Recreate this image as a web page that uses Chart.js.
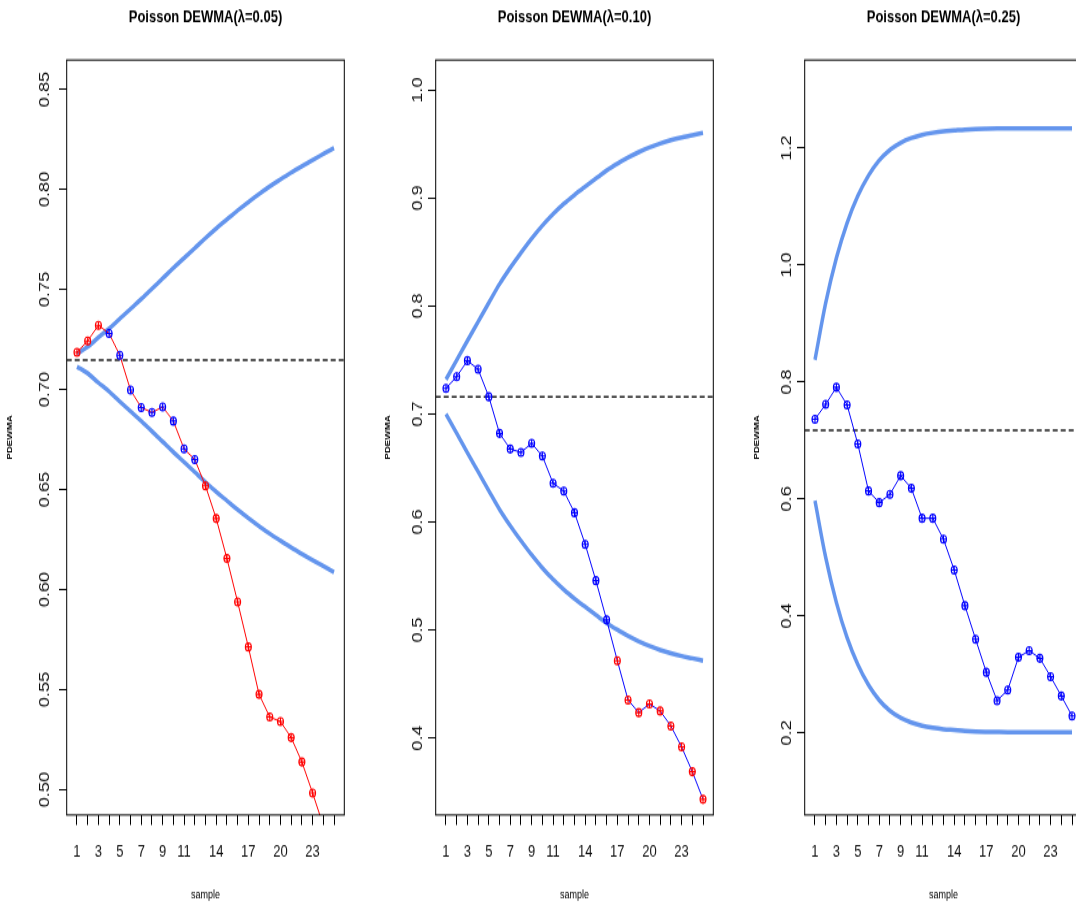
<!DOCTYPE html>
<html>
<head>
<meta charset="utf-8">
<title>Poisson DEWMA</title>
<script src="https://cdn.jsdelivr.net/npm/chart.js@4.4.1/dist/chart.umd.min.js"></script>
<style>
  html, body { margin: 0; padding: 0; background: #fff; overflow: hidden; }
  body { width: 1076px; height: 905px; position: relative; }
  /* the original plot is stretched vertically, so each canvas is too */
  .panel { position: absolute; top: 0; width: 369px; height: 696px; transform: scaleY(1.3); transform-origin: 0 0; }
</style>
</head>
<body>
<div class="panel" style="left:0px"><canvas id="chart005" width="369" height="696"></canvas></div>
<div class="panel" style="left:369px"><canvas id="chart010" width="369" height="696"></canvas></div>
<div class="panel" style="left:738px"><canvas id="chart025" width="369" height="696"></canvas></div>
<script>
// x axis
const SAMPLES = [1, 2, 3, 4, 5, 6, 7, 8, 9, 10, 11, 12, 13, 14, 15, 16, 17, 18, 19, 20, 21, 22, 23, 24, 25];
const X_LABELS = [1, 3, 5, 7, 9, 11, 14, 17, 20, 23];
const X_MIN = 0.04;
const X_MAX = 25.96;

// lambda = 0.05
const PDEWMA_005 = [0.7186, 0.7243, 0.7321, 0.728, 0.7171, 0.6997, 0.691, 0.6885, 0.6913, 0.6842, 0.6703, 0.665, 0.6518,
                    0.6355, 0.6155, 0.5938, 0.5713, 0.5476, 0.5363, 0.534, 0.526, 0.5138, 0.4983, 0.482, 0.47];
const UCL_005 = [0.718, 0.7213, 0.726, 0.7304, 0.7354, 0.7403, 0.7452, 0.7503, 0.7555, 0.7607, 0.7657, 0.7707, 0.7757,
                 0.7805, 0.785, 0.7895, 0.7937, 0.7977, 0.8015, 0.805, 0.8084, 0.8116, 0.8147, 0.8177, 0.8207];
const LCL_005 = [0.7114, 0.7081, 0.7034, 0.699, 0.694, 0.6891, 0.6842, 0.6791, 0.6739, 0.6687, 0.6637, 0.6587, 0.6537,
                 0.6489, 0.6444, 0.6399, 0.6357, 0.6317, 0.6279, 0.6244, 0.621, 0.6178, 0.6147, 0.6117, 0.6087];
const CENTER_005 = 0.7147;
const Y_TICKS_005 = [0.50, 0.55, 0.60, 0.65, 0.70, 0.75, 0.80, 0.85];
const Y_LABELS_005 = ['0.50', '0.55', '0.60', '0.65', '0.70', '0.75', '0.80', '0.85'];

// lambda = 0.10
const PDEWMA_010 = [0.7238, 0.7346, 0.7494, 0.7414, 0.716, 0.6821, 0.6676, 0.6645, 0.6728, 0.6611, 0.6358, 0.6287, 0.6086,
                    0.5793, 0.5457, 0.5093, 0.4716, 0.4352, 0.4235, 0.4315, 0.425, 0.4111, 0.3917, 0.3688, 0.3432];
const UCL_010 = [0.732, 0.7499, 0.7678, 0.7854, 0.803, 0.8203, 0.8354, 0.8493, 0.8625, 0.8745, 0.8852, 0.8946, 0.9029,
                 0.9106, 0.9181, 0.9255, 0.9318, 0.9375, 0.9425, 0.9468, 0.9505, 0.9536, 0.9561, 0.9582, 0.9604];
const LCL_010 = [0.70, 0.6821, 0.6642, 0.6466, 0.629, 0.6117, 0.5966, 0.5827, 0.5695, 0.5575, 0.5468, 0.5374, 0.5291,
                 0.5214, 0.5139, 0.5065, 0.5002, 0.4945, 0.4895, 0.4852, 0.4815, 0.4784, 0.4759, 0.4738, 0.4716];
const CENTER_010 = 0.716;
const Y_TICKS_010 = [0.4, 0.5, 0.6, 0.7, 0.8, 0.9, 1.0];
const Y_LABELS_010 = ['0.4', '0.5', '0.6', '0.7', '0.8', '0.9', '1.0'];

// lambda = 0.25
const PDEWMA_025 = [0.7362, 0.7619, 0.7909, 0.7607, 0.694, 0.6137, 0.5937, 0.608, 0.6398, 0.6183, 0.567, 0.567, 0.5311,
                    0.4786, 0.4176, 0.3602, 0.3037, 0.2553, 0.2735, 0.3294, 0.3407, 0.3277, 0.2963, 0.2633, 0.2291];
const UCL_025 = [0.838, 0.935, 1.012, 1.072, 1.118, 1.153, 1.179, 1.197, 1.209, 1.217, 1.2225, 1.226, 1.2285,
                 1.230, 1.2315, 1.2325, 1.233, 1.2333, 1.2335, 1.2335, 1.2335, 1.2335, 1.2335, 1.2335, 1.2335];
const LCL_025 = [0.597, 0.50, 0.423, 0.363, 0.317, 0.282, 0.256, 0.238, 0.226, 0.218, 0.2125, 0.209, 0.2065,
                 0.205, 0.2035, 0.2025, 0.202, 0.2017, 0.2015, 0.2015, 0.2015, 0.2015, 0.2015, 0.2015, 0.2015];
const CENTER_025 = 0.7175;
const Y_TICKS_025 = [0.2, 0.4, 0.6, 0.8, 1.0, 1.2];
const Y_LABELS_025 = ['0.2', '0.4', '0.6', '0.8', '1.0', '1.2'];

const RED = '#ff0000';
const BLUE = '#0000ff';
const LIMIT_COLOR = '#6495ed';

Chart.defaults.font.family = "'Liberation Sans', Arial, sans-serif";
Chart.defaults.color = '#111';

const frame = {
    id: 'frame',
    afterDraw(chart) {
        const a = chart.chartArea;
        const ctx = chart.ctx;
        ctx.save();
        ctx.strokeStyle = '#000';
        ctx.lineWidth = 1;
        ctx.strokeRect(a.left, a.top, a.right - a.left, a.bottom - a.top);
        ctx.restore();
    }
};

function xy(values) {
    return SAMPLES.map((x, i) => ({ x: x, y: values[i] }));
}

function buildPanel(canvasId, p) {
    const colors = p.pd.map((v, i) => (v > p.ucl[i] || v < p.lcl[i]) ? RED : BLUE);
    return new Chart(document.getElementById(canvasId), {
        type: 'line',
        data: {
            datasets: [
                {   // cross inside each marker
                    data: xy(p.pd),
                    showLine: false,
                    pointStyle: 'cross',
                    pointRadius: 3,
                    pointBorderWidth: 1.1,
                    pointBorderColor: colors,
                },
                {
                    data: xy(p.pd),
                    borderColor: p.lineColor,
                    borderWidth: 1,
                    pointStyle: 'circle',
                    pointRadius: 3,
                    pointBorderWidth: 1.1,
                    pointBorderColor: colors,
                    pointBackgroundColor: 'rgba(0,0,0,0)',
                },
                {
                    data: [{ x: X_MIN, y: p.center }, { x: X_MAX, y: p.center }],
                    borderColor: '#222',
                    borderWidth: 1.5,
                    borderDash: [5, 3],
                    pointRadius: 0,
                },
                {
                    data: xy(p.ucl),
                    borderColor: LIMIT_COLOR,
                    borderWidth: 3.5,
                    pointRadius: 0,
                    cubicInterpolationMode: 'monotone',
                },
                {
                    data: xy(p.lcl),
                    borderColor: LIMIT_COLOR,
                    borderWidth: 3.5,
                    pointRadius: 0,
                    cubicInterpolationMode: 'monotone',
                },
            ]
        },
        options: {
            responsive: false,
            animation: false,
            events: [],
            layout: { padding: { left: 0, right: 24.7, top: 0, bottom: 0 } },
            plugins: {
                legend: { display: false },
                tooltip: { enabled: false },
                title: {
                    display: true,
                    text: p.title,
                    fullSize: false,
                    color: '#000',
                    font: { size: 13, weight: 'bold' },
                    padding: { top: 5.7, bottom: 24.85 },
                },
            },
            scales: {
                x: {
                    type: 'linear',
                    min: X_MIN,
                    max: X_MAX,
                    afterBuildTicks: s => { s.ticks = SAMPLES.map(v => ({ value: v })); },
                    afterFit: s => { s.height = 69.1; },
                    border: { display: false },
                    grid: { drawOnChartArea: false, drawTicks: true, tickLength: 7.7, color: '#000', lineWidth: 1 },
                    ticks: {
                        autoSkip: false,
                        maxRotation: 0,
                        padding: 13,
                        font: { size: 13 },
                        callback: v => X_LABELS.includes(v) ? String(v) : '',
                    },
                    title: { display: true, text: 'sample', color: '#000', font: { size: 9 }, padding: { top: 0, bottom: 2 } },
                },
                y: {
                    type: 'linear',
                    min: p.yMin,
                    max: p.yMax,
                    afterBuildTicks: s => { s.ticks = p.yTicks.map(v => ({ value: v })); },
                    afterFit: s => { s.width = 66.7; },
                    border: { display: false },
                    grid: { drawOnChartArea: false, drawTicks: true, tickLength: 7.7, color: '#000', lineWidth: 1 },
                    ticks: {
                        autoSkip: false,
                        minRotation: 90,
                        maxRotation: 90,
                        crossAlign: 'center',
                        padding: 0,
                        font: { size: 14 },
                        callback: (v, i) => p.yLabels[i],
                    },
                    title: { display: true, text: 'PDEWMA', color: '#000', font: { size: 7.5, weight: 'bold' }, padding: { top: p.yTitlePad, bottom: 0 } },
                },
            },
        },
        plugins: [frame],
    });
}

buildPanel('chart005', {
    title: 'Poisson DEWMA(\u03bb=0.05)',
    pd: PDEWMA_005, ucl: UCL_005, lcl: LCL_005, center: CENTER_005,
    yMin: 0.4873, yMax: 0.8647, yTicks: Y_TICKS_005, yLabels: Y_LABELS_005,
    lineColor: RED, yTitlePad: 5.5,
});
buildPanel('chart010', {
    title: 'Poisson DEWMA(\u03bb=0.10)',
    pd: PDEWMA_010, ucl: UCL_010, lcl: LCL_010, center: CENTER_010,
    yMin: 0.3287, yMax: 1.0278, yTicks: Y_TICKS_010, yLabels: Y_LABELS_010,
    lineColor: BLUE, yTitlePad: 14.5,
});
buildPanel('chart025', {
    title: 'Poisson DEWMA(\u03bb=0.25)',
    pd: PDEWMA_025, ucl: UCL_025, lcl: LCL_025, center: CENTER_025,
    yMin: 0.0598, yMax: 1.3504, yTicks: Y_TICKS_025, yLabels: Y_LABELS_025,
    lineColor: BLUE, yTitlePad: 14.5,
});
</script>
</body>
</html>
